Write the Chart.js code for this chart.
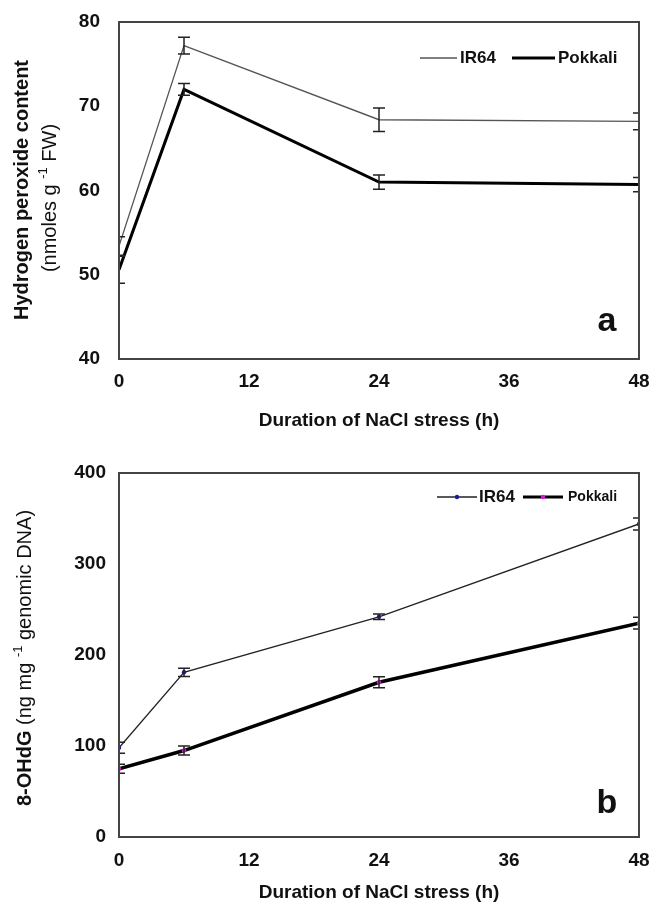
<!DOCTYPE html>
<html lang="en">
<head>
<meta charset="UTF-8">
<title>H2O2 and 8-OHdG under NaCl stress</title>
<script src="https://cdn.jsdelivr.net/npm/chart.js"></script>
<style>
  body { margin: 0; background: #fff; }
  #wrap { position: relative; width: 650px; height: 910px; }
  canvas { position: absolute; left: 0; }
</style>
</head>
<body>
<div id="wrap">
  <canvas id="chartA" width="650" height="440" style="top:0"></canvas>
  <canvas id="chartB" width="650" height="470" style="top:440px"></canvas>
</div>
<script>
// sampling times (h)
const hours = [0, 6, 24, 48];
const xTicks = [0, 12, 24, 36, 48];

// panel a: hydrogen peroxide content
const h2o2IR64 = [53.4, 77.2, 68.4, 68.2];
const h2o2IR64Err = [1.1, 1.0, 1.4, 1.0];
const h2o2Pokkali = [50.6, 72.0, 61.0, 60.7];
const h2o2PokkaliErr = [1.6, 0.7, 0.85, 0.85];
const h2o2Ticks = [40, 50, 60, 70, 80];

// panel b: 8-OHdG
const ohdgIR64 = [98, 181, 242, 344];
const ohdgIR64Err = [6, 4.5, 3, 6.5];
const ohdgPokkali = [75, 95, 170, 235];
const ohdgPokkaliErr = [5, 5, 6, 6.5];
const ohdgTicks = [0, 100, 200, 300, 400];

const FONT = '"Liberation Sans", Arial, sans-serif';
const INK = '#111';

function pts(vals) {
    return hours.map((h, i) => ({ x: h, y: vals[i] }));
}

// draws a run of text pieces (different fonts) centred on 0,0
function drawRich(ctx, parts) {
    let total = 0;
    parts.forEach(p => { ctx.font = p.font; p.w = ctx.measureText(p.text).width; total += p.w; });
    let x = -total / 2;
    ctx.textAlign = 'left';
    ctx.textBaseline = 'middle';
    parts.forEach(p => {
        ctx.font = p.font;
        ctx.fillText(p.text, x, p.dy || 0);
        x += p.w;
    });
}

// no label overhang, the layout padding sets the plot box
function noOverhang(s) {
    s.paddingLeft = 0; s.paddingRight = 0;
    s.paddingTop = 0; s.paddingBottom = 0;
}

const framePlugin = {
    id: 'frame',
    afterDraw(chart) {
        const { ctx, chartArea: a } = chart;
        ctx.save();
        ctx.strokeStyle = '#444';
        ctx.lineWidth = 2;
        ctx.strokeRect(a.left, a.top, a.right - a.left, a.bottom - a.top);
        ctx.restore();
    }
};

const errorBarPlugin = {
    id: 'errorBars',
    afterDatasetsDraw(chart) {
        const { ctx, chartArea: a, scales } = chart;
        ctx.save();
        ctx.beginPath();
        ctx.rect(a.left, a.top, a.right - a.left, a.bottom - a.top);
        ctx.clip();
        ctx.strokeStyle = '#222';
        ctx.lineWidth = 1.5;
        chart.data.datasets.forEach(ds => {
            ds.data.forEach((p, i) => {
                const e = ds.errors[i];
                const x = scales.x.getPixelForValue(p.x);
                const y1 = scales.y.getPixelForValue(p.y + e);
                const y2 = scales.y.getPixelForValue(p.y - e);
                ctx.beginPath();
                ctx.moveTo(x, y1); ctx.lineTo(x, y2);
                ctx.moveTo(x - 6, y1); ctx.lineTo(x + 6, y1);
                ctx.moveTo(x - 6, y2); ctx.lineTo(x + 6, y2);
                ctx.stroke();
            });
        });
        ctx.restore();
    }
};

const decorPlugin = {
    id: 'decor',
    afterDraw(chart, args, opts) {
        const ctx = chart.ctx;
        ctx.save();
        ctx.fillStyle = INK;
        // y axis titles
        opts.yTitles.forEach(t => {
            ctx.save();
            ctx.translate(t.x, t.y);
            ctx.rotate(-Math.PI / 2);
            drawRich(ctx, t.parts);
            ctx.restore();
        });
        // panel letter
        ctx.font = 'bold 34px ' + FONT;
        ctx.textAlign = 'center';
        ctx.textBaseline = 'middle';
        ctx.fillText(opts.letter.text, opts.letter.x, opts.letter.y);
        // legend
        opts.legend.forEach(it => {
            ctx.strokeStyle = it.color;
            ctx.lineWidth = it.width;
            ctx.beginPath();
            ctx.moveTo(it.x0, opts.legendY); ctx.lineTo(it.x1, opts.legendY);
            ctx.stroke();
            if (it.dot) {
                ctx.fillStyle = it.dot;
                ctx.beginPath();
                ctx.arc((it.x0 + it.x1) / 2, opts.legendY, 2.2, 0, Math.PI * 2);
                ctx.fill();
            }
            ctx.fillStyle = INK;
            ctx.font = 'bold ' + it.size + 'px ' + FONT;
            ctx.textAlign = 'left';
            ctx.textBaseline = 'middle';
            ctx.fillText(it.text, it.tx, opts.legendY);
        });
        ctx.restore();
    }
};

function axes(yMin, yMax, yTickVals, xHeight, yPad, titlePad, xPad) {
    const tickFont = { family: FONT, size: 19, weight: 'bold' };
    return {
        x: {
            type: 'linear', min: 0, max: 48,
            afterBuildTicks: s => { s.ticks = xTicks.map(v => ({ value: v })); },
            afterFit: s => { s.height = xHeight; noOverhang(s); },
            grid: { display: false, drawTicks: false },
            border: { display: false },
            ticks: { padding: xPad, color: INK, font: tickFont },
            title: {
                display: true, text: 'Duration of NaCl stress (h)', color: INK,
                font: { family: FONT, size: 19, weight: 'bold' },
                padding: { top: 0, bottom: titlePad }
            }
        },
        y: {
            min: yMin, max: yMax,
            afterBuildTicks: s => { s.ticks = yTickVals.map(v => ({ value: v })); },
            afterFit: s => { s.width = 119; noOverhang(s); },
            grid: { display: false, drawTicks: false },
            border: { display: false },
            ticks: { padding: yPad, color: INK, font: tickFont }
        }
    };
}

new Chart(document.getElementById('chartA'), {
    type: 'line',
    data: {
        datasets: [
            { label: 'IR64', data: pts(h2o2IR64), errors: h2o2IR64Err,
              borderColor: '#555', borderWidth: 1.3, pointRadius: 0, tension: 0 },
            { label: 'Pokkali', data: pts(h2o2Pokkali), errors: h2o2PokkaliErr,
              borderColor: '#000', borderWidth: 3, pointRadius: 0, tension: 0 }
        ]
    },
    options: {
        responsive: false,
        animation: false,
        layout: { padding: { left: 0, right: 11, top: 22, bottom: 0 } },
        scales: axes(40, 80, h2o2Ticks, 81, 19, 8, 11),
        plugins: {
            legend: { display: false },
            tooltip: { enabled: false },
            decor: {
                yTitles: [
                    { x: 22, y: 190, parts: [{ text: 'Hydrogen peroxide content', font: 'bold 20px ' + FONT }] },
                    { x: 50, y: 198, parts: [
                        { text: '(nmoles g ', font: '20px ' + FONT },
                        { text: '-1', font: '13px ' + FONT, dy: -7 },
                        { text: ' FW)', font: '20px ' + FONT }
                    ] }
                ],
                letter: { text: 'a', x: 607, y: 322 },
                legendY: 58,
                legend: [
                    { x0: 420, x1: 457, color: '#555', width: 1.3, text: 'IR64', tx: 460, size: 17 },
                    { x0: 512, x1: 555, color: '#000', width: 3, text: 'Pokkali', tx: 558, size: 17 }
                ]
            }
        }
    },
    plugins: [errorBarPlugin, framePlugin, decorPlugin]
});

new Chart(document.getElementById('chartB'), {
    type: 'line',
    data: {
        datasets: [
            { label: 'IR64', data: pts(ohdgIR64), errors: ohdgIR64Err,
              borderColor: '#222', borderWidth: 1.3, tension: 0,
              pointRadius: 2.2, pointBorderWidth: 0, pointBackgroundColor: '#1c1c9a' },
            { label: 'Pokkali', data: pts(ohdgPokkali), errors: ohdgPokkaliErr,
              borderColor: '#000', borderWidth: 3.5, tension: 0,
              pointRadius: 2.2, pointBorderWidth: 0, pointBackgroundColor: '#e014e0' }
        ]
    },
    options: {
        responsive: false,
        animation: false,
        layout: { padding: { left: 0, right: 11, top: 33, bottom: 0 } },
        scales: axes(0, 400, ohdgTicks, 73, 13, 6, 12),
        plugins: {
            legend: { display: false },
            tooltip: { enabled: false },
            decor: {
                yTitles: [
                    { x: 25, y: 218, parts: [
                        { text: '8-OHdG', font: 'bold 20px ' + FONT },
                        { text: ' (ng mg ', font: '20px ' + FONT },
                        { text: '-1', font: '13px ' + FONT, dy: -7 },
                        { text: ' genomic DNA)', font: '20px ' + FONT }
                    ] }
                ],
                letter: { text: 'b', x: 607, y: 364 },
                legendY: 57,
                legend: [
                    { x0: 437, x1: 477, color: '#222', width: 1.3, dot: '#1c1c9a', text: 'IR64', tx: 479, size: 17 },
                    { x0: 523, x1: 563, color: '#000', width: 3, dot: '#e014e0', text: 'Pokkali', tx: 568, size: 14 }
                ]
            }
        }
    },
    plugins: [errorBarPlugin, framePlugin, decorPlugin]
});
</script>
</body>
</html>
